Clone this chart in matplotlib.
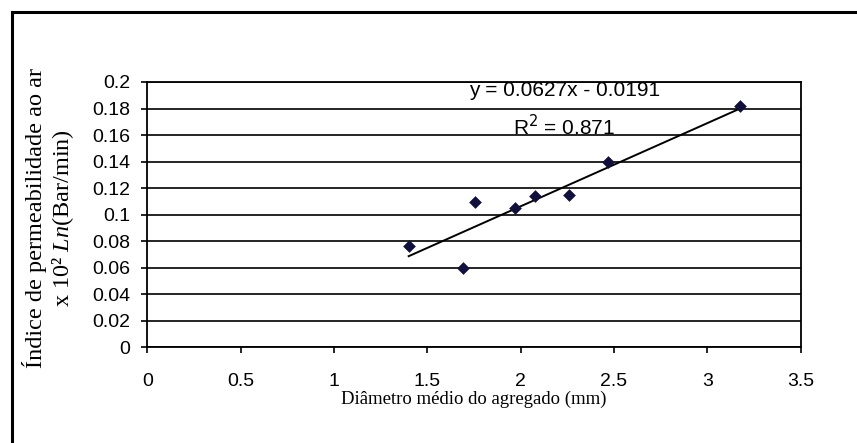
import numpy as np
import matplotlib
matplotlib.use("Agg")
import matplotlib.pyplot as plt
from matplotlib.lines import Line2D

plt.rcParams['font.family'] = ['Liberation Sans', 'DejaVu Sans']
plt.rcParams['mathtext.fontset'] = 'custom'
plt.rcParams['mathtext.rm'] = 'Liberation Serif'
plt.rcParams['mathtext.it'] = 'Liberation Serif:italic'

# diametro medio (mm) vs indice de permeabilidade
diametro = [1.40, 1.69, 1.755, 1.97, 2.077, 2.26, 2.466, 3.175]
indice = [0.0764, 0.0595, 0.1093, 0.1048, 0.1141, 0.1148, 0.1399, 0.1819]

# linear trendline as given by the equation label
slope = 0.0627
intercept = -0.0191
r2 = 0.871

xticks = [0, 0.5, 1, 1.5, 2, 2.5, 3, 3.5]
xtick_labels = ['0', '0.5', '1', '1.5', '2', '2.5', '3', '3.5']
yticks = [0, 0.02, 0.04, 0.06, 0.08, 0.1, 0.12, 0.14, 0.16, 0.18, 0.2]
ytick_labels = ['0', '0.02', '0.04', '0.06', '0.08', '0.1', '0.12', '0.14', '0.16', '0.18', '0.2']

fig = plt.figure(figsize=(8.57, 4.43), dpi=100)
ax = fig.add_axes([0.1719, 0.2160, 0.7624, 0.5989])

# outer chart frame (left and top edges only)
fig.add_artist(Line2D([0.0140, 0.0140], [0.0, 0.9725], transform=fig.transFigure,
                      color='black', lw=2.2))
fig.add_artist(Line2D([0.0140, 1.0], [0.9725, 0.9725], transform=fig.transFigure,
                      color='black', lw=2.2))

for y in yticks:
    ax.axhline(y, color='black', lw=1.2, zorder=1)

xs = np.array([min(diametro), max(diametro)])
ax.plot(xs, slope * xs + intercept, color='black', lw=1.4, zorder=2)
ax.scatter(diametro, indice, marker='D', s=42, color='#10103a', zorder=3, linewidths=0)

ax.set_xlim(0, 3.5)
ax.set_ylim(0, 0.2)
ax.set_xticks(xticks)
ax.set_xticklabels(xtick_labels)
ax.set_yticks(yticks)
ax.set_yticklabels(ytick_labels)
ax.tick_params(direction='out', length=4.3, width=1.2, labelsize=14, colors='black')
ax.tick_params(axis='y', pad=8)
ax.tick_params(axis='x', pad=14)
for s in ax.spines.values():
    s.set_linewidth(1.3)
    s.set_color('black')

ax.text(2.235, 0.1934, 'y = 0.0627x - 0.0191', ha='center', va='center', fontsize=15)
ax.text(2.235, 0.1663, 'R$^2$ = %.3f' % r2, ha='center', va='center', fontsize=15,
        math_fontfamily='dejavusans')

ax.set_xlabel('Diâmetro médio do agregado (mm)', family='Liberation Serif', fontsize=13.5, labelpad=1)
fig.text(49 / 857, 0.5068, 'Índice de permeabilidade ao ar\nx 10² $\\mathit{Ln}$(Bar/min)',
         family='Liberation Serif', fontsize=17.5, rotation=90, ha='center', va='center',
         multialignment='center', linespacing=1.2)

fig.savefig('out.png', dpi=100, facecolor='white')
